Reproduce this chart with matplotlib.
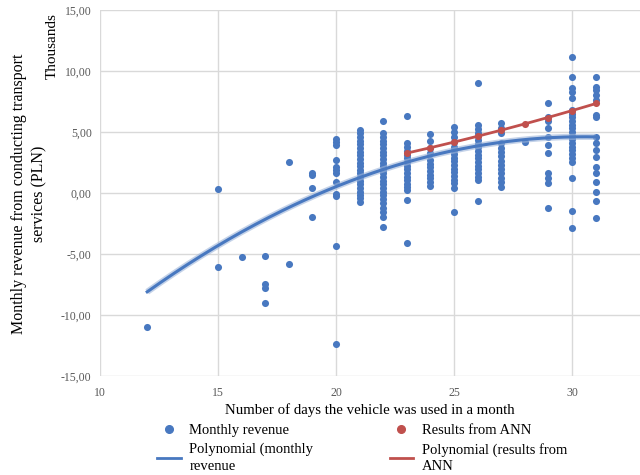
import numpy as np
import matplotlib
matplotlib.use("Agg")
import matplotlib.pyplot as plt
from matplotlib.lines import Line2D

plt.rcParams['font.family'] = ['Liberation Serif', 'DejaVu Serif']

# ---- data (thousands PLN) ----
d12 = [-11.0]
d15 = [0.33, -6.07]
d16 = [-5.25]
d17 = [-5.14, -7.49, -7.76, -9.02]
d18 = [2.57, -5.79]
d19 = [1.67, 1.48, 0.44, -1.99]
d20 = [4.43, 4.15, 3.93, 2.68, 2.16, 1.89, 1.67, 0.93, -0.08, -0.25, -4.32, -12.35]
d21 = [5.16, 4.9, 4.6, 4.3, 4.0, 3.7, 3.4, 3.1, 2.8, 2.5, 2.2, 1.9, 1.6, 1.3,
       1.0, 0.7, 0.4, 0.1, -0.2, -0.45, -0.71]
d22 = [5.93, 4.9, 4.6, 4.3, 4.0, 3.7, 3.4, 3.1, 2.8, 2.5, 2.2, 1.9, 1.6, 1.3,
       1.0, 0.7, 0.4, 0.1, -0.2, -0.5, -0.84, -1.2, -1.53, -1.94, -2.81]
d23 = [6.34, 4.07, 3.75, 3.45, 3.15, 2.85, 2.55, 2.25, 1.95, 1.65, 1.35, 1.05,
       0.75, 0.5, 0.25, -0.57, -4.07]
d24 = [4.85, 4.3, 3.7, 3.25, 2.7, 2.4, 2.1, 1.8, 1.5, 1.2, 0.9, 0.55]
d25 = [5.44, 5.02, 4.6, 4.2, 3.8, 3.5, 3.2, 2.9, 2.6, 2.3, 2.0, 1.7, 1.4, 1.1,
       0.8, 0.38, -1.53]
d26 = [9.04, 5.57, 5.25, 4.95, 4.65, 4.35, 4.05, 3.75, 3.45, 3.15, 2.85, 2.55,
       2.25, 1.95, 1.65, 1.35, 1.07, -0.66]
d27 = [5.71, 5.3, 4.9, 4.07, 3.7, 3.35, 3.0, 2.65, 2.3, 1.95, 1.6, 1.25, 0.9, 0.52]
d28 = [4.2]
d29 = [7.35, 6.25, 5.9, 5.3, 4.6, 3.93, 3.3, 1.61, 1.25, 0.85, -1.26]
d30 = [11.17, 9.53, 8.6, 8.3, 7.76, 6.8, 6.5, 6.2, 5.9, 5.6, 5.3, 5.0, 4.7,
       4.4, 4.1, 3.8, 3.5, 3.2, 2.9, 2.57, 1.26, -1.45, -2.84]
d31 = [9.53, 8.71, 8.44, 8.03, 7.62, 6.39, 6.25, 4.6, 4.07, 3.52, 2.98, 2.16,
       1.61, 0.93, 0.11, -0.66, -2.07]

revenue_by_day = {12: d12, 15: d15, 16: d16, 17: d17, 18: d18, 19: d19,
                  20: d20, 21: d21, 22: d22, 23: d23, 24: d24, 25: d25,
                  26: d26, 27: d27, 28: d28, 29: d29, 30: d30, 31: d31}

ann_days = [23, 24, 25, 26, 27, 28, 29, 30, 31]
ann_vals = [3.25, 3.72, 4.2, 4.67, 5.16, 5.65, 6.17, 6.75, 7.35]

# order-2 polynomial trendline of monthly revenue
# (coefficients for x^2, x, 1)
revenue_trend_coeffs = [-0.0372, 2.268, -29.96]

x_ticks = [10, 15, 20, 25, 30]
y_ticks = [-15, -10, -5, 0, 5, 10, 15]

rev_x = np.concatenate([[k] * len(v) for k, v in revenue_by_day.items()]).astype(float)
rev_y = np.concatenate([v for v in revenue_by_day.values()])

blue = '#4878C0'
red = '#C0504D'

fig = plt.figure(figsize=(6.4, 4.75), dpi=100)
ax = fig.add_axes([100 / 640, 1 - 376 / 475, 540 / 640, 366 / 475])

ax.set_xlim(10, 32.88)
ax.set_ylim(-15, 15)
ax.set_xticks(x_ticks)
ax.set_yticks(y_ticks)
ax.set_yticklabels([f"{v:.2f}".replace('.', ',') for v in y_ticks])
ax.grid(True, color='#D9D9D9', linewidth=1.0)
ax.set_axisbelow(True)
for s in ax.spines.values():
    s.set_visible(False)
ax.tick_params(length=0, labelsize=8.5, labelcolor='#595959')
ax.tick_params(axis='x', pad=8)
ax.tick_params(axis='y', pad=6)

ax.scatter(rev_x, rev_y, s=26, color=blue, zorder=3, linewidths=0)
ax.scatter(ann_days, ann_vals, s=26, color=red, zorder=5, linewidths=0)

xb = np.linspace(rev_x.min(), rev_x.max(), 200)
yb = np.polyval(revenue_trend_coeffs, xb)
ax.plot(xb, yb, color='#9DB5DA', lw=4.5, alpha=0.6, zorder=3.5,
        solid_capstyle='butt')
ax.plot(xb, yb, color=blue, lw=2.2, zorder=4)

cr = np.polyfit(ann_days, ann_vals, 2)
xr = np.linspace(min(ann_days), max(ann_days), 100)
ax.plot(xr, np.polyval(cr, xr), color=red, lw=2.0, zorder=4.5)

ax.set_xlabel('Number of days the vehicle was used in a month', fontsize=10.7,
              labelpad=3)
fig.text(0.045, 0.593, 'Monthly revenue from conducting transport\nservices (PLN)',
         rotation=90, ha='center', va='center', fontsize=11.5, linespacing=1.35)
fig.text(0.081, 0.903, 'Thousands', rotation=90, ha='center', va='center',
         fontsize=11)

handles = [
    Line2D([], [], ls='none', marker='o', ms=5.5, color=blue),
    Line2D([], [], color=blue, lw=2),
    Line2D([], [], ls='none', marker='o', ms=5.5, color=red),
    Line2D([], [], color=red, lw=2),
]
labels = ['Monthly revenue', 'Polynomial (monthly\nrevenue',
          'Results from ANN', 'Polynomial (results from\nANN']
leg = fig.legend(handles, labels, ncol=2, loc='upper left',
                 bbox_to_anchor=(0.2456, 0.108), frameon=False, fontsize=10.5,
                 handlelength=1.6, handletextpad=0.6, columnspacing=5.25,
                 labelspacing=0.4, borderaxespad=0, borderpad=0)
for t in leg.get_texts():
    t.set_linespacing(1.36)

fig.savefig('out.png', dpi=100)
